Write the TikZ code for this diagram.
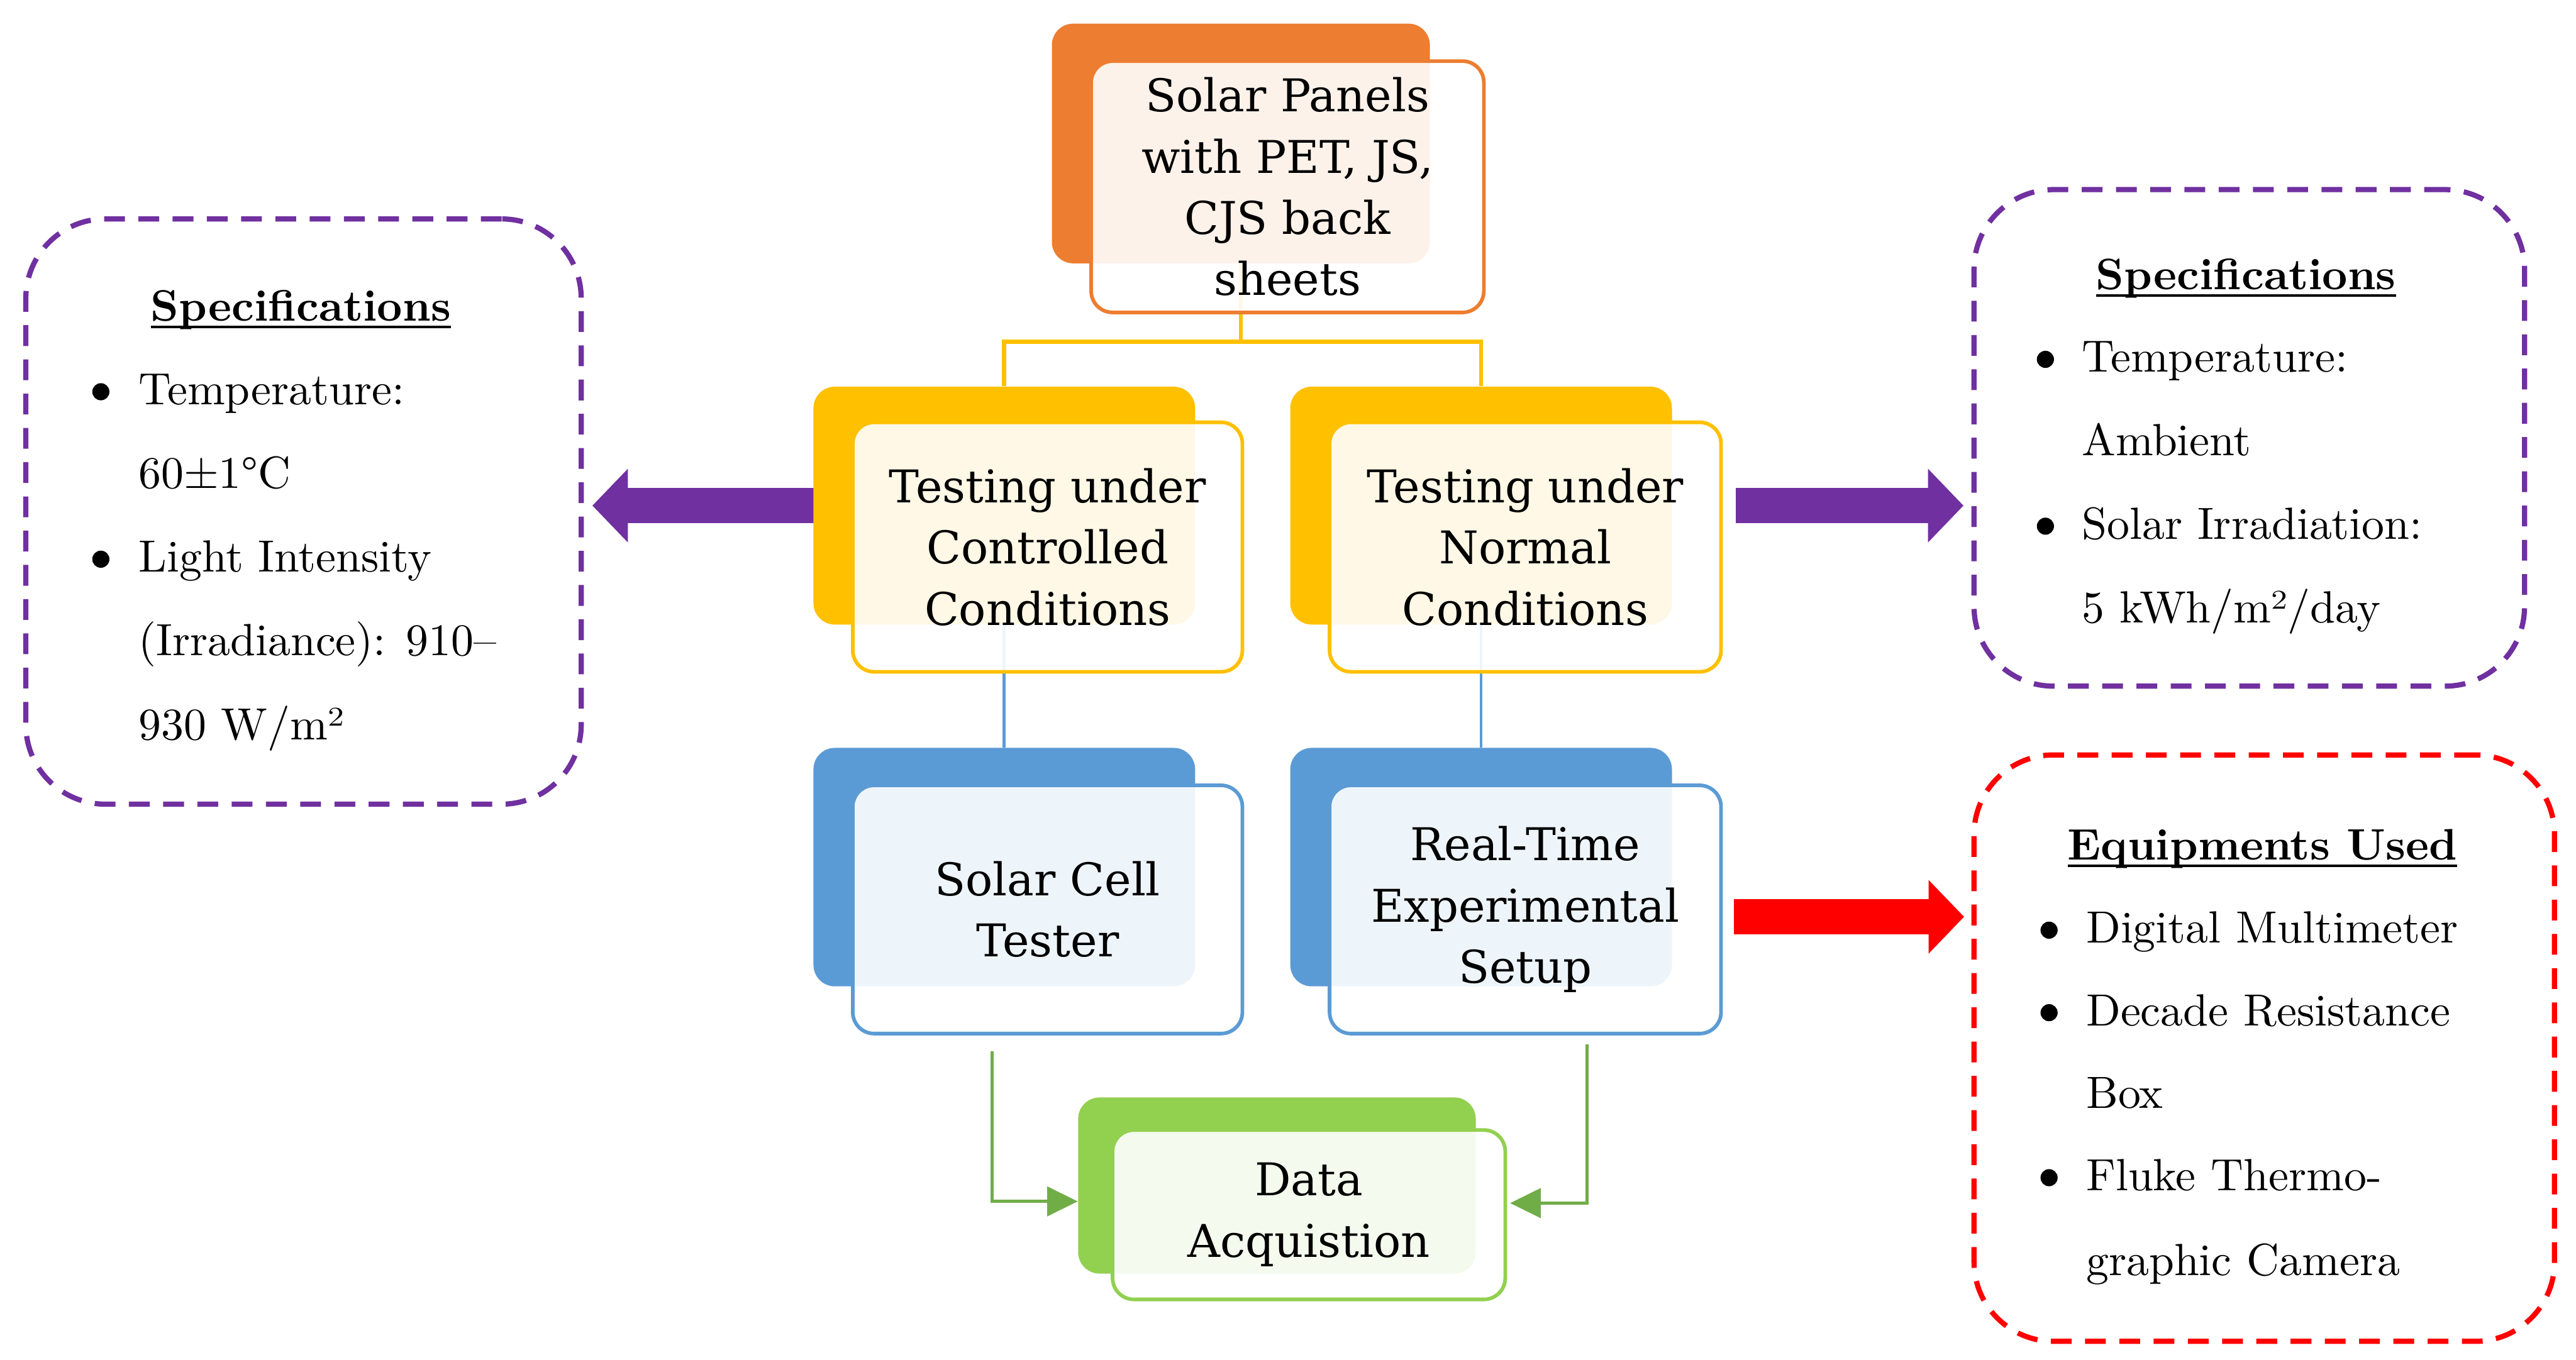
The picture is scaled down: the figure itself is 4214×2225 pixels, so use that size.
\documentclass[tikz,border=0pt]{standalone}
\usepackage{fontspec}
\setmainfont{lmroman10-regular.otf}[BoldFont=lmroman10-bold.otf]
\newfontfamily\boxfont{DejaVu Serif}
\usetikzlibrary{arrows.meta,calc}
\pgfdeclarelayer{bg}
\pgfdeclarelayer{paper}
\pgfsetlayers{paper,bg,main}
\definecolor{orangeC}{HTML}{ED7D31}
\definecolor{yellowC}{HTML}{FFC000}
\definecolor{blueC}{HTML}{5B9BD5}
\definecolor{greenC}{HTML}{92D050}
\definecolor{greenA}{HTML}{70AD47}
\definecolor{purpleC}{HTML}{7030A0}
\definecolor{redC}{HTML}{FF0000}
\newcommand\thickul[1]{\setbox0\hbox{#1}\rlap{\rule[-0.12cm]{\wd0}{0.045cm}}#1}
\begin{document}
\begin{tikzpicture}[x=0.01cm,y=-0.01cm,
  backbox/.style={rounded corners=0.35cm, fill=#1, inner sep=0pt, anchor=north west},
  frontbox/.style={rounded corners=0.35cm, draw=#1, line width=0.06cm, fill=white,
    fill opacity=0.9, text opacity=1, inner sep=0pt, anchor=north west, align=center,
    font=\boxfont\fontsize{21}{28.5}\selectfont},
  dashbox/.style={draw=#1, line width=0.085cm, dash pattern=on 0.34cm off 0.22cm,
    rounded corners=1.3cm, anchor=north west, inner sep=0pt},
  sidetxt/.style={anchor=base west, inner sep=0pt, font=\fontsize{21}{39}\selectfont},
  titletxt/.style={anchor=base, inner sep=0pt, font=\bfseries\fontsize{20.5}{39}\selectfont},
  bul/.style={circle, fill=black, inner sep=0pt, minimum size=0.28cm},
  ycon/.style={draw=yellowC, line width=0.07cm},
  bcon/.style={draw=blueC, line width=0.05cm},
  gcon/.style={draw=greenA, line width=0.05cm, -{Triangle[length=0.5cm,width=0.48cm]}},
  fatarrow/.style={draw=#1, line width=0.58cm, -{Triangle[length=0.58cm,width=1.17cm]}}
]
\begin{pgfonlayer}{paper}
\fill[white] (0,0) rectangle (4214,2225);
\end{pgfonlayer}
\useasboundingbox (0,0) rectangle (4214,2225);

% ---- orange top
\node[backbox=orangeC, minimum width=6.18cm, minimum height=3.92cm] (ob) at (1720,38) {};
\node[frontbox=orangeC, minimum width=6.42cm, minimum height=4.11cm] (of) at (1782,97)
  {Solar Panels\\with PET, JS,\\CJS back\\sheets};

% ---- yellow
\node[backbox=yellowC, minimum width=6.24cm, minimum height=3.89cm] (ylb) at (1330,632) {};
\node[frontbox=yellowC, minimum width=6.37cm, minimum height=4.08cm] (ylf) at (1392,688)
  {Testing under\\Controlled\\Conditions};
\node[backbox=yellowC, minimum width=6.24cm, minimum height=3.89cm] (yrb) at (2110,632) {};
\node[frontbox=yellowC, minimum width=6.40cm, minimum height=4.08cm] (yrf) at (2172,688)
  {Testing under\\Normal\\Conditions};

% ---- blue
\node[backbox=blueC, minimum width=6.24cm, minimum height=3.90cm] (blb) at (1330,1223) {};
\node[frontbox=blueC, minimum width=6.37cm, minimum height=4.06cm] (blf) at (1392,1282)
  {Solar Cell\\Tester};
\node[backbox=blueC, minimum width=6.24cm, minimum height=3.90cm] (brb) at (2110,1223) {};
\node[frontbox=blueC, minimum width=6.40cm, minimum height=4.06cm] (brf) at (2172,1282)
  {Real-Time\\Experimental\\Setup};

% ---- green
\node[backbox=greenC, minimum width=6.50cm, minimum height=2.88cm] (gb) at (1763,1795) {};
\node[frontbox=greenC, minimum width=6.42cm, minimum height=2.77cm] (gf) at (1817,1846)
  {Data\\Acquistion};

% ---- dashed side boxes
\node[dashbox=purpleC, minimum width=9.08cm, minimum height=9.57cm] (specL) at (38,354) {};
\node[dashbox=purpleC, minimum width=9.00cm, minimum height=8.12cm] (specR) at (3225,306) {};
\node[dashbox=redC, minimum width=9.49cm, minimum height=9.59cm] (equip) at (3225,1231) {};

% left texts
\node[titletxt] (tL) at (492,525) {\thickul{Specifications}};
\node[bul] (bL1) at (165,641) {};
\node[sidetxt] (L1) at (226,662) {Temperature:};
\node[sidetxt] (L2) at (226,799) {60±1°C};
\node[bul] (bL2) at (165,915) {};
\node[sidetxt] (L3) at (226,936) {Light Intensity};
\node[sidetxt] (L4) at (226,1073) {(Irradiance): 910–};
\node[sidetxt] (L5) at (226,1210) {930 W/m²};

% right spec texts
\node[titletxt] (tR) at (3674,474) {\thickul{Specifications}};
\node[bul] (bR1) at (3346,588) {};
\node[sidetxt] (R1) at (3405,609) {Temperature:};
\node[sidetxt] (R2) at (3405,745) {Ambient};
\node[bul] (bR2) at (3346,861) {};
\node[sidetxt] (R3) at (3405,882) {Solar Irradiation:};
\node[sidetxt] (R4) at (3405,1019) {5 kWh/m²/day};

% equipment texts
\node[titletxt] (tE) at (3701,1407) {\thickul{Equipments Used}};
\node[bul] (bE1) at (3352,1522) {};
\node[sidetxt] (E1) at (3412,1543) {Digital Multimeter};
\node[bul] (bE2) at (3352,1657) {};
\node[sidetxt] (E2) at (3412,1678) {Decade Resistance};
\node[sidetxt] (E3) at (3412,1813) {Box};
\node[bul] (bE3) at (3352,1927) {};
\node[sidetxt] (E4) at (3412,1948) {Fluke Thermo-};
\node[sidetxt] (E5) at (3412,2087) {graphic Camera};

% ---- connectors (behind boxes)
\begin{pgfonlayer}{bg}
  \coordinate (split) at (2029,559);
  \draw[ycon] (ob.south) -- (ob.south |- split);
  \draw[ycon] (ylb.north) |- (split) -| (yrb.north);
  \draw[bcon] (ylb.south) -- (blb.north);
  \draw[bcon] (yrb.south) -- (brb.north);
  \coordinate (gls) at (1623,1720);
  \coordinate (grs) at (2596,1709);
  \draw[gcon] (gls) |- ($(gb.west)+(0,26)$);
  \draw[gcon] (grs) |- ($(gf.east)+(5,-19)$);
  \draw[fatarrow=purpleC] ($(ylb.west)+(11,0)$) -- ($(specL.east |- ylb.west)+(14,0)$);
  \draw[fatarrow=purpleC] ($(yrf.east |- yrb.east)+(21,0)$) -- ($(specR.west |- yrb.east)+(-13,0)$);
  \draw[fatarrow=redC] ($(brf.east)+(18,12)$) -- ($(equip.west |- brf.east)+(-12,12)$);
\end{pgfonlayer}
\end{tikzpicture}
\end{document}
